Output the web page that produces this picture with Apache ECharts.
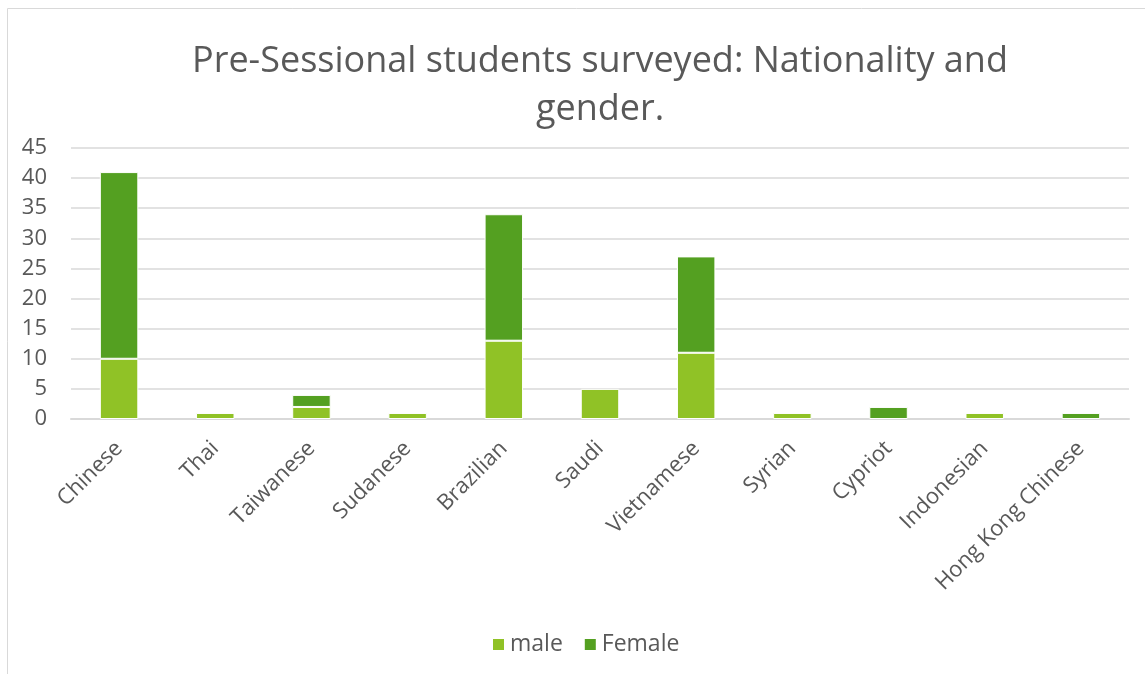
<!DOCTYPE html>
<html>
<head>
<meta charset="utf-8">
<script src="https://cdn.jsdelivr.net/npm/echarts@6/dist/echarts.min.js"></script>
<style>
  html, body { margin: 0; padding: 0; background: #fff; }
  #chart { width: 1145px; height: 674px; }
</style>
</head>
<body>
<div id="chart"></div>
<script>
// Nationalities of pre-sessional students, split by gender
const categories = ['Chinese', 'Thai', 'Taiwanese', 'Sudanese', 'Brazilian', 'Saudi',
  'Vietnamese', 'Syrian', 'Cypriot', 'Indonesian', 'Hong Kong Chinese'];
const maleCounts   = [10, 1, 2, 1, 13, 5, 11, 1, 0, 1, 0];
const femaleCounts = [31, 0, 2, 0, 21, 0, 16, 0, 2, 0, 1];
const yTicks = [0, 5, 10, 15, 20, 25, 30, 35, 40, 45];
const chartTitle = 'Pre-Sessional students surveyed: Nationality and\ngender.';

const FONT = '"Open Sans", "Noto Sans", sans-serif';
const TEXT = '#595959';

const chart = echarts.init(document.getElementById('chart'), null, { renderer: 'canvas' });

chart.setOption({
  animation: false,
  textStyle: { fontFamily: FONT, color: TEXT },
  graphic: [
    {
      // chart-area frame
      type: 'rect',
      shape: { x: 7.5, y: 8.5, width: 1160, height: 700 },
      style: { fill: 'none', stroke: '#d9d9d9', lineWidth: 1 },
      z: -1
    },
    {
      // title, centred over the plot area
      type: 'text',
      x: 600,
      y: 38,
      style: {
        text: chartTitle,
        fill: TEXT,
        font: '36px ' + FONT,
        align: 'center',
        verticalAlign: 'top',
        lineHeight: 48
      }
    }
  ],
  legend: {
    top: 628,
    left: 486,
    itemWidth: 13,
    itemHeight: 13,
    itemGap: 20,
    icon: 'rect',
    textStyle: { fontFamily: FONT, fontSize: 23, color: TEXT },
    data: ['male', 'Female']
  },
  grid: { left: 71, right: 16, top: 148, bottom: 255, containLabel: false },
  xAxis: {
    type: 'category',
    data: categories,
    axisLine: { lineStyle: { color: '#d9d9d9', width: 2 } },
    axisTick: { show: false },
    axisLabel: { rotate: 45, interval: 0, fontSize: 22, color: TEXT, fontFamily: FONT, margin: 26 }
  },
  yAxis: {
    type: 'value',
    min: yTicks[0],
    max: yTicks[yTicks.length - 1],
    interval: yTicks[1] - yTicks[0],
    axisLine: { show: false },
    axisTick: { show: false },
    axisLabel: { fontSize: 22, color: TEXT, fontFamily: FONT, margin: 24 },
    splitLine: { lineStyle: { color: '#d9d9d9', width: 1.5 } }
  },
  series: [
    {
      name: 'male',
      type: 'bar',
      stack: 'total',
      data: maleCounts.map(v => v || null),
      barWidth: '40%',
      itemStyle: { color: '#90c226', borderColor: '#ffffff', borderWidth: 1 }
    },
    {
      name: 'Female',
      type: 'bar',
      stack: 'total',
      data: femaleCounts.map(v => v || null),
      barWidth: '40%',
      itemStyle: { color: '#54a021', borderColor: '#ffffff', borderWidth: 1 }
    }
  ]
});
</script>
</body>
</html>
